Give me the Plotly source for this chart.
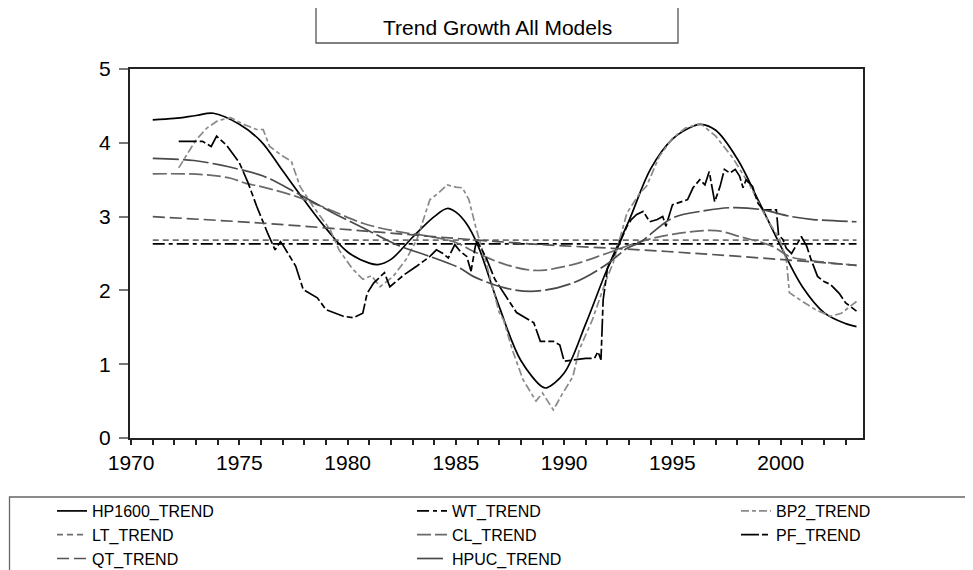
import plotly.graph_objects as go

# ---- data (decimal years, growth in %) ----
hp1600_x = [1971, 1972, 1973, 1973.8, 1975, 1976, 1977, 1978, 1979, 1980, 1981, 1981.4, 1982, 1983, 1984,
            1984.6, 1985, 1985.5, 1986, 1987, 1988, 1989, 1989.2, 1990, 1991, 1992, 1993, 1994, 1995, 1996,
            1996.3, 1997, 1998, 1999, 2000, 2001, 2002, 2003, 2003.5]
hp1600_y = [4.31, 4.33, 4.37, 4.40, 4.25, 4.02, 3.62, 3.22, 2.84, 2.52, 2.37, 2.35, 2.42, 2.72, 3.0,
            3.11, 3.06, 2.9, 2.62, 1.78, 1.05, 0.69, 0.68, 0.88, 1.55, 2.3, 2.95, 3.65, 4.05, 4.23,
            4.25, 4.17, 3.78, 3.2, 2.6, 2.05, 1.7, 1.55, 1.51]

wt_x = [1971, 1975, 1980, 1985, 1990, 1995, 2000, 2003.5]
wt_y = [2.63, 2.63, 2.63, 2.63, 2.63, 2.63, 2.63, 2.63]

bp2_x = [1972.2, 1972.6, 1973.0, 1973.5, 1974.0, 1974.6, 1975.2, 1975.8, 1976.1, 1976.4, 1977.0, 1977.4,
         1977.8, 1978.4, 1979.2, 1979.6, 1980.2, 1980.7, 1981.1, 1981.5, 1982.1, 1982.7, 1983.2, 1983.6,
         1983.8, 1984.2, 1984.6, 1985.0, 1985.3, 1985.6, 1985.95, 1986.4, 1987.0, 1987.2, 1987.6, 1988.1,
         1988.7, 1989.0, 1989.5, 1989.9, 1990.4, 1990.7, 1991.3, 1991.95, 1992.26, 1992.9, 1993.5, 1993.8,
         1994.4, 1995.0, 1995.6, 1996.3, 1997.0, 1997.8, 1998.6, 1999.3, 1999.95, 2000.26, 2000.4, 2001.0,
         2001.6, 2002.3, 2002.8, 2003.5]
bp2_y = [3.66, 3.85, 4.04, 4.2, 4.3, 4.34, 4.25, 4.18, 4.18, 3.95, 3.82, 3.75,
         3.41, 3.14, 2.82, 2.55, 2.3, 2.15, 2.2, 2.05, 2.19, 2.42, 2.69, 3.05,
         3.23, 3.32, 3.43, 3.40, 3.39, 3.23, 2.82, 2.37, 1.7, 1.6, 1.2, 0.79,
         0.5, 0.61, 0.38, 0.59, 0.83, 1.2, 1.6, 2.15, 2.37, 3.05, 3.32, 3.41,
         3.82, 4.06, 4.2, 4.26, 4.09, 3.79, 3.41, 3.0, 2.69, 2.42, 1.97, 1.85,
         1.74, 1.65, 1.69, 1.85]

lt_x = [1971, 1975, 1980, 1985, 1990, 1995, 2000, 2003.5]
lt_y = [2.68, 2.68, 2.68, 2.68, 2.68, 2.68, 2.68, 2.68]

cl_x = [1971, 1973.3, 1974.6, 1975.3, 1976.1, 1977.65, 1979.2, 1980.7, 1982.26, 1983.8, 1985.0, 1985.8,
        1987.3, 1988.7, 1990.4, 1991.95, 1993.5, 1995.0, 1997.0, 1998.1, 1999.6, 2000.4, 2001.5, 2003.5]
cl_y = [3.58, 3.57, 3.52, 3.45, 3.4, 3.27, 3.09, 2.91, 2.8, 2.73, 2.65, 2.53,
        2.35, 2.27, 2.35, 2.5, 2.66, 2.76, 2.81, 2.73, 2.6, 2.46, 2.4, 2.34]

pf_x = [1972.2, 1973.3, 1973.7, 1973.95, 1974.4, 1975.0, 1975.4, 1975.8, 1976.3, 1976.65, 1976.9, 1977.0,
        1977.6, 1977.95, 1978.6, 1979.0, 1979.8, 1980.26, 1980.7, 1980.9, 1981.2, 1981.7, 1981.95, 1982.6,
        1983.2, 1983.8, 1984.1, 1984.4, 1984.65, 1984.95, 1985.2, 1985.5, 1985.7, 1985.9, 1986.0, 1986.4,
        1986.8, 1987.3, 1987.8, 1988.6, 1988.9, 1989.5, 1989.8, 1990.0, 1990.6, 1991.0, 1991.4, 1991.56,
        1991.7, 1991.8, 1992.0, 1992.5, 1992.9, 1993.1, 1993.35, 1993.65, 1993.95, 1994.3, 1994.55, 1994.7,
        1995.0, 1995.4, 1995.7, 1995.95, 1996.26, 1996.5, 1996.7, 1996.95, 1997.2, 1997.4, 1997.65, 1997.9,
        1998.1, 1998.26, 1998.4, 1998.7, 1998.95, 1999.2, 1999.8, 1999.9, 2000.1, 2000.26, 2000.5, 2000.7,
        2000.95, 2001.2, 2001.4, 2001.7, 2002.0, 2002.3, 2002.7, 2003.0, 2003.5]
pf_y = [4.02, 4.02, 3.95, 4.09, 3.97, 3.73, 3.46, 3.14, 2.78, 2.55, 2.66, 2.62,
        2.33, 2.01, 1.9, 1.74, 1.65, 1.63, 1.69, 1.96, 2.1, 2.24, 2.05, 2.21,
        2.33, 2.46, 2.55, 2.5, 2.44, 2.62, 2.53, 2.46, 2.26, 2.6, 2.66, 2.44,
        2.15, 1.92, 1.7, 1.56, 1.31, 1.31, 1.26, 1.04, 1.06, 1.08, 1.08, 1.17,
        1.06, 1.87, 2.3, 2.6, 2.87, 2.96, 3.03, 3.07, 2.93, 2.96, 3.0, 2.87,
        3.16, 3.2, 3.23, 3.39, 3.5, 3.43, 3.61, 3.2, 3.41, 3.64, 3.59, 3.64,
        3.55, 3.39, 3.5, 3.41, 3.18, 3.09, 3.09, 2.75, 2.69, 2.57, 2.5, 2.6,
        2.73, 2.6, 2.42, 2.19, 2.12, 2.08, 1.96, 1.83, 1.72]

qt_x = [1971, 1976.1, 1981, 1985.2, 1989, 1993.5, 1998.1, 2003.5]
qt_y = [3.0, 2.91, 2.8, 2.7, 2.62, 2.55, 2.46, 2.34]

hpuc_x = [1971, 1972.9, 1974.1, 1975.0, 1976.1, 1977.65, 1979.2, 1980.7, 1982.26, 1983.8, 1985.2, 1985.8,
          1987.3, 1988.7, 1990.4, 1991.95, 1992.9, 1993.5, 1995.0, 1996.5, 1997.65, 1999.0, 2000.5, 2001.5,
          2003.5]
hpuc_y = [3.79, 3.76, 3.7, 3.64, 3.55, 3.32, 3.07, 2.85, 2.62, 2.46, 2.3, 2.19,
          2.03, 1.99, 2.1, 2.35, 2.57, 2.65, 2.98, 3.08, 3.12, 3.1, 3.0, 2.96,
          2.93]

series = [
    ('HP1600_TREND', hp1600_x, hp1600_y, '#000000', 'solid', 'spline', 'legend'),
    ('WT_TREND', wt_x, wt_y, '#000000', '12px,4px,4px,4px', 'linear', 'legend2'),
    ('BP2_TREND', bp2_x, bp2_y, '#8a8a8a', '8px,3px,4px,3px', 'linear', 'legend3'),
    ('LT_TREND', lt_x, lt_y, '#6e6e6e', '6px,4px', 'linear', 'legend'),
    ('CL_TREND', cl_x, cl_y, '#6a6a6a', '14px,4px', 'spline', 'legend2'),
    ('PF_TREND', pf_x, pf_y, '#000000', '18px,3px,6px,3px', 'linear', 'legend3'),
    ('QT_TREND', qt_x, qt_y, '#555555', '12px,5px', 'spline', 'legend'),
    ('HPUC_TREND', hpuc_x, hpuc_y, '#4a4a4a', '26px,4px', 'spline', 'legend2'),
]

FONT = 'Liberation Sans, Arial, sans-serif'

fig = go.Figure()
for name, xs, ys, col, dash, shape, leg in series:
    fig.add_trace(go.Scatter(
        x=xs, y=ys, name=name, mode='lines', legend=leg,
        line=dict(color=col, width=1.7, dash=dash, shape=shape),
    ))

# the page puts the figure 8px in from the top-left corner;
# plot area sits at page x 130..863, y 69..438
pw, ph = 733, 369
def px_x(p):
    return (p - 130) / pw
def px_y(p):
    return (438 - p) / ph

legend_common = dict(orientation='v', yanchor='top', xanchor='left', y=px_y(494),
                     bgcolor='rgba(0,0,0,0)', borderwidth=0, tracegroupgap=0,
                     font=dict(family=FONT, size=16, color='#000'))

fig.update_layout(
    width=965, height=562,
    margin=dict(l=122, r=110, t=61, b=132, autoexpand=False),
    paper_bgcolor='white', plot_bgcolor='white',
    font=dict(family=FONT, color='#000'),
    showlegend=True,
    legend=dict(x=px_x(52), **legend_common),
    legend2=dict(x=px_x(412), **legend_common),
    legend3=dict(x=px_x(736), **legend_common),
    xaxis=dict(range=[1969.95, 2003.8], tick0=1970, dtick=5, ticks='outside', ticklen=5,
               tickwidth=1.5, tickcolor='#222', showgrid=False, zeroline=False,
               showline=True, mirror=True, linecolor='#222', linewidth=2,
               tickfont=dict(family=FONT, size=21, color='#000'),
               minor=dict(dtick=1, ticks='outside', ticklen=5, tickwidth=1.5, tickcolor='#222')),
    yaxis=dict(range=[0, 5], dtick=1, ticks='outside', ticklen=9, tickwidth=1.5,
               tickcolor='#777', showgrid=False, zeroline=False, ticklabelstandoff=4,
               showline=True, mirror=True, linecolor='#222', linewidth=2,
               tickfont=dict(family=FONT, size=21, color='#000')),
    shapes=[
        # title box (top edge off the page)
        dict(type='rect', xref='paper', yref='paper', x0=px_x(316), x1=px_x(678),
             y0=px_y(43), y1=px_y(-10), line=dict(color='#555', width=1.3), fillcolor='rgba(0,0,0,0)'),
        # legend box (right and bottom edges off the page)
        dict(type='rect', xref='paper', yref='paper', x0=px_x(9.5), x1=px_x(990),
             y0=px_y(497), y1=px_y(590), line=dict(color='#666', width=1.3), fillcolor='rgba(0,0,0,0)'),
    ],
    annotations=[
        dict(text='Trend Growth All Models', xref='paper', yref='paper', x=px_x(497), y=px_y(28),
             xanchor='center', yanchor='middle', showarrow=False,
             font=dict(family=FONT, size=21, color='#000')),
    ],
)

fig.write_html('out.html')
